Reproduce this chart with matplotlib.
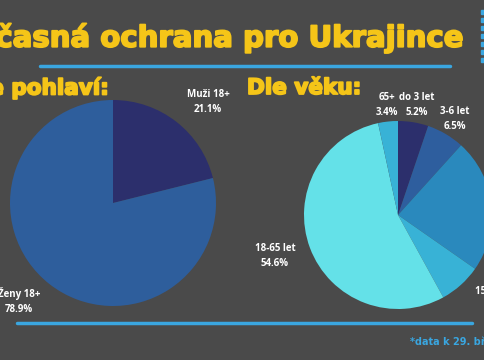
import matplotlib.pyplot as plt
import matplotlib.patheffects as pe

# data
pohlavi_labels = ['Muži 18+', 'Ženy 18+']
pohlavi_values = [21.1, 78.9]
pohlavi_colors = ['#2c2f6c', '#2e5e9c']

vek_labels = ['do 3 let', '3-6 let', '6-15 let', '15-18 let', '18-65 let', '65+']
vek_values = [5.2, 6.5, 23.0, 7.3, 54.6, 3.4]
vek_colors = ['#2c2f6c', '#2e5e9e', '#2a89bd', '#38b2d6', '#64e1e8', '#38b2d6']

bg = '#4a4a4a'
yellow = '#f5c518'
blue_line = '#3aa6e0'

fig = plt.figure(figsize=(4.85, 3.6), dpi=100, facecolor=bg)
ax = fig.add_axes([0, 0, 1, 1])
ax.set_facecolor(bg)

H = 360  # obrazove souradnice -> data

ax.pie(pohlavi_values, colors=pohlavi_colors, startangle=90, counterclock=False,
       center=(113, H - 203), radius=103, wedgeprops=dict(linewidth=0))
ax.pie(vek_values, colors=vek_colors, startangle=90, counterclock=False,
       center=(398, H - 215), radius=94, wedgeprops=dict(linewidth=0))

ax.set_xlim(0, 485)
ax.set_ylim(0, 360)
ax.set_aspect('equal')
ax.axis('off')

font_title = ['DejaVu Sans']
tlust = [pe.withStroke(linewidth=1.3, foreground=yellow)]
ax.text(463, H - 38, 'Dočasná ochrana pro Ukrajince', color=yellow, fontsize=21,
        fontweight='bold', family=font_title, ha='right', va='center', path_effects=tlust)
ax.text(108, H - 88, 'Dle pohlaví:', color=yellow, fontsize=15.5,
        fontweight='bold', family=font_title, ha='right', va='center', path_effects=tlust)
ax.text(247, H - 88, 'Dle věku:', color=yellow, fontsize=15.5,
        fontweight='bold', family=font_title, ha='left', va='center', path_effects=tlust)

# modre cary
ax.plot([40, 450], [H - 66, H - 66], color=blue_line, lw=2.5, solid_capstyle='round')
ax.plot([17, 472], [H - 323, H - 323], color=blue_line, lw=2.5, solid_capstyle='round')
ax.plot([483] * 7, [H - y for y in range(12, 68, 8)], 's', color=blue_line, ms=3)

# popisky
lab = dict(color='white', fontsize=7, fontweight='bold', ha='center', va='center',
           family=['Open Sans', 'DejaVu Sans'])
ax.text(208, H - 102, 'Muži 18+\n21.1%', linespacing=1.5, **lab)
ax.text(19, H - 301, 'Ženy 18+\n78.9%', linespacing=1.5, **lab)
ax.text(387, H - 105, '65+\n3.4%', linespacing=1.5, **lab)
ax.text(417, H - 105, 'do 3 let\n5.2%', linespacing=1.5, **lab)
ax.text(455, H - 119, '3-6 let\n6.5%', linespacing=1.5, **lab)
ax.text(275, H - 256, '18-65 let\n54.6%', linespacing=1.5, **lab)
ax.text(495, H - 299, '15-18 let\n7.3%', linespacing=1.5, **lab)

ax.text(410, H - 342, '*data k 29. březnu 2022', color=blue_line, fontsize=7,
        fontweight='bold', family=font_title, ha='left', va='center')

fig.savefig('out.png', dpi=100, facecolor=bg)
